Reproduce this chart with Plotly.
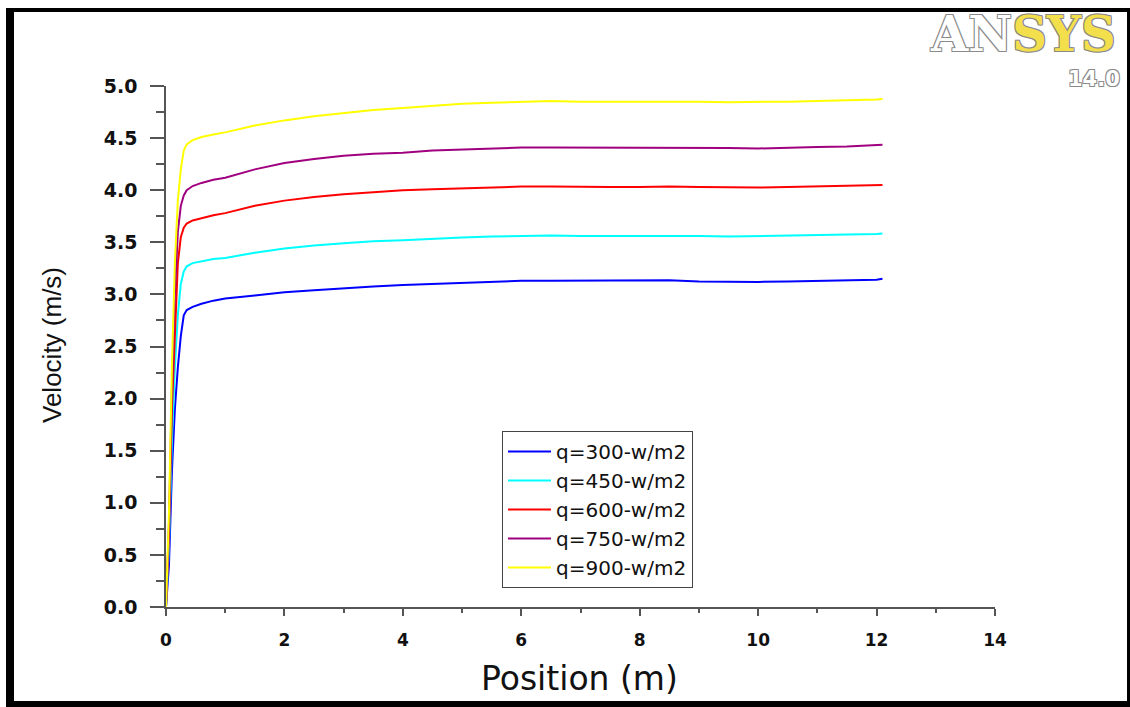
import plotly.graph_objects as go

# ---------------- data ----------------
position = [0, 0.05, 0.1, 0.15, 0.2, 0.25, 0.3, 0.35, 0.45, 0.6, 0.8, 1.0, 1.5, 2.0, 2.5,
            3.0, 3.5, 4.0, 4.5, 5.0, 5.5, 6.0, 6.5, 7.0, 7.5, 8.0, 8.5, 9.0, 9.5, 10.0,
            10.5, 11.0, 11.5, 12.0, 12.1]

v_300 = [0, 0.4, 1.3, 1.9, 2.3, 2.6, 2.8, 2.85, 2.88, 2.91, 2.94, 2.96, 2.99, 3.02, 3.04,
         3.06, 3.075, 3.09, 3.10, 3.11, 3.12, 3.13, 3.13, 3.13, 3.13, 3.13, 3.135, 3.125, 3.12,
         3.12, 3.125, 3.13, 3.135, 3.14, 3.15]
v_450 = [0, 0.6, 1.6, 2.3, 2.8, 3.1, 3.22, 3.27, 3.30, 3.32, 3.34, 3.35, 3.40, 3.44, 3.47,
         3.49, 3.51, 3.52, 3.535, 3.545, 3.555, 3.56, 3.565, 3.56, 3.56, 3.56, 3.565, 3.56, 3.555,
         3.56, 3.56, 3.565, 3.57, 3.58, 3.585]
v_600 = [0, 0.7, 1.9, 2.7, 3.3, 3.55, 3.64, 3.68, 3.71, 3.73, 3.76, 3.78, 3.85, 3.90, 3.935,
         3.96, 3.98, 4.00, 4.01, 4.02, 4.03, 4.035, 4.035, 4.03, 4.03, 4.03, 4.035, 4.03, 4.025,
         4.025, 4.03, 4.035, 4.04, 4.045, 4.05]
v_750 = [0, 0.8, 2.1, 3.0, 3.6, 3.85, 3.95, 4.0, 4.04, 4.07, 4.10, 4.12, 4.20, 4.26, 4.30,
         4.33, 4.35, 4.36, 4.38, 4.39, 4.40, 4.41, 4.41, 4.41, 4.405, 4.41, 4.41, 4.41, 4.405,
         4.40, 4.41, 4.415, 4.42, 4.43, 4.435]
v_900 = [0, 0.9, 2.3, 3.3, 3.9, 4.2, 4.38, 4.44, 4.48, 4.51, 4.535, 4.555, 4.62, 4.67, 4.71,
         4.74, 4.77, 4.79, 4.81, 4.83, 4.84, 4.85, 4.855, 4.85, 4.85, 4.85, 4.855, 4.85, 4.845,
         4.845, 4.85, 4.855, 4.86, 4.87, 4.875]

series_names = ["q=300-w/m2", "q=450-w/m2", "q=600-w/m2", "q=750-w/m2", "q=900-w/m2"]
series_values = [v_300, v_450, v_600, v_750, v_900]
series_colors = ["#0000FF", "#00FFFF", "#FF0000", "#A0007F", "#FFFF00"]

# ---------------- layout helpers (pixel -> paper) ----------------
W, H = 1130, 707
ML, MR, MT, MB = 166, 135, 86, 100
PW, PH = W - ML - MR, H - MT - MB


def px(xp):
    return (xp - ML) / PW


def py(yp):
    return (H - MB - yp) / PH


fig = go.Figure()
for name, vals, col in zip(series_names, series_values, series_colors):
    fig.add_trace(go.Scatter(x=position, y=vals, mode="lines", name=name,
                             line=dict(color=col, width=2)))

axis_col = "#555555"
fig.update_layout(
    width=W, height=H,
    margin=dict(l=ML, r=MR, t=MT, b=MB),
    paper_bgcolor="white", plot_bgcolor="white",
    showlegend=True,
    legend=dict(x=px(502), y=py(431), xanchor="left", yanchor="top",
                bgcolor="white", bordercolor="#444444", borderwidth=1,
                font=dict(family="DejaVu Sans", size=20, color="#111111"),
                itemwidth=43, tracegroupgap=0),
    xaxis=dict(range=[0, 14], dtick=2, tick0=0, showgrid=False, zeroline=False,
               showline=True, linecolor=axis_col, linewidth=1.5,
               ticks="outside", ticklen=7, tickwidth=1.5, tickcolor=axis_col,
               ticklabelstandoff=10,
               minor=dict(dtick=1, ticks="outside", ticklen=4, tickwidth=1.5, tickcolor=axis_col),
               tickfont=dict(family="DejaVu Sans", size=17, color="#111111", weight="bold")),
    yaxis=dict(range=[0, 5], dtick=0.5, tick0=0, tickformat=".1f", showgrid=False, zeroline=False,
               showline=True, linecolor=axis_col, linewidth=1.5,
               ticks="outside", ticklen=14, tickwidth=1.5, tickcolor=axis_col,
               ticklabelstandoff=9,
               minor=dict(dtick=0.25, ticks="outside", ticklen=8, tickwidth=1.5, tickcolor=axis_col),
               tickfont=dict(family="DejaVu Sans", size=19, color="#111111", weight="bold")),
)

# axis titles
fig.add_annotation(text="Position (m)", x=px(579), y=py(678), xref="paper", yref="paper",
                   xanchor="center", yanchor="middle", showarrow=False,
                   font=dict(family="DejaVu Sans", size=33, color="#111111"))
fig.add_annotation(text="Velocity (m/s)", x=px(52), y=py(345), xref="paper", yref="paper",
                   xanchor="center", yanchor="middle", showarrow=False, textangle=-90,
                   font=dict(family="Liberation Sans", size=26, color="#111111"))

# logo
outline = "-1px -1px 0 #8a8a8a, 1px -1px 0 #8a8a8a, -1px 1px 0 #8a8a8a, 1px 1px 0 #8a8a8a"
fig.add_annotation(text="AN<span style='color:#F3DF4C'>SYS</span>", x=px(1118), y=py(34),
                   xref="paper", yref="paper", xanchor="right", yanchor="middle", showarrow=False,
                   font=dict(family="DejaVu Serif", size=48, color="white", weight="bold",
                             shadow=outline))
fig.add_annotation(text="14.0", x=px(1122), y=py(79), xref="paper", yref="paper",
                   xanchor="right", yanchor="middle", showarrow=False,
                   font=dict(family="DejaVu Sans", size=21, color="white", weight="bold",
                             shadow=outline))

# frame border
frame = [(6, 8, 14, 707), (6, 8, 1130, 12), (6, 701, 1130, 707), (1127, 8, 1130, 707)]
for x0, y0, x1, y1 in frame:
    fig.add_shape(type="rect", xref="paper", yref="paper",
                  x0=px(x0), x1=px(x1), y0=py(y1), y1=py(y0),
                  fillcolor="black", line=dict(width=0), layer="above")

fig.write_html("out.html")
